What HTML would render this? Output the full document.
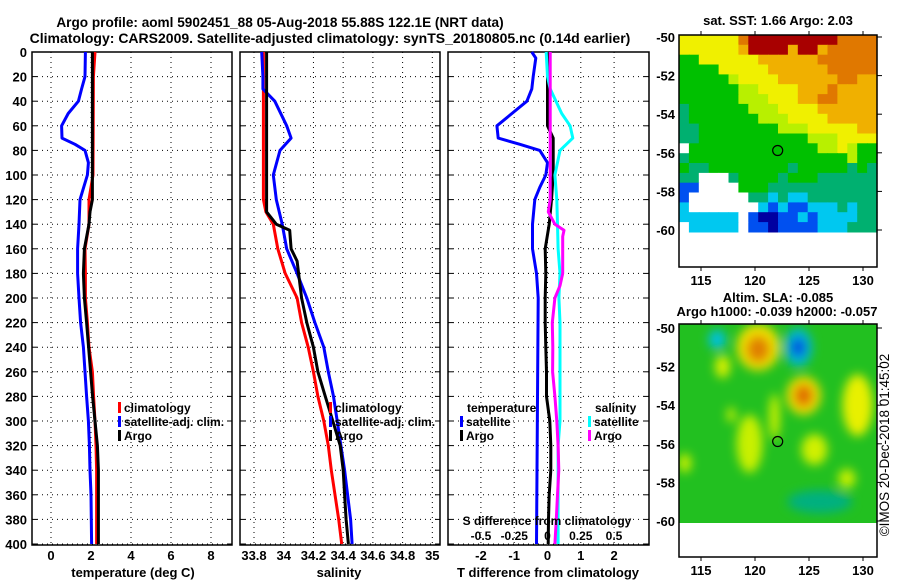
<!DOCTYPE html>
<html><head><meta charset="utf-8"><style>
html,body{margin:0;padding:0;background:#fff;}
svg{display:block;font-family:"Liberation Sans",sans-serif;font-weight:bold;}
</style></head><body>
<svg id="fig" width="900" height="580" viewBox="0 0 900 580" xmlns="http://www.w3.org/2000/svg">
<defs><filter id="blur" x="-50%" y="-50%" width="200%" height="200%"><feGaussianBlur stdDeviation="5"/></filter>
<clipPath id="slaclip"><rect x="679" y="324" width="198" height="199"/></clipPath></defs>
<text x="280" y="27" font-size="13.6" text-anchor="middle">Argo profile: aoml 5902451_88 05-Aug-2018 55.88S 122.1E (NRT data)</text>
<text x="330" y="43" font-size="14" text-anchor="middle">Climatology: CARS2009. Satellite-adjusted climatology: synTS_20180805.nc (0.14d earlier)</text>
<g id="panels"></g>
<g id="maps"></g>
<text transform="translate(889,445) rotate(-90)" font-size="13.5" font-weight="normal" text-anchor="middle">©IMOS 20-Dec-2018 01:45:02</text>
</svg>
<script>
// ---- data ----
const depthTicks=[0,20,40,60,80,100,120,140,160,180,200,220,240,260,280,300,320,340,360,380,400];
const tTicks=[0,2,4,6,8];
const sTicks=[33.8,34,34.2,34.4,34.6,34.8,35];
const sTickLabels=["33.8","34","34.2","34.4","34.6","34.8","35"];
const dTicks=[-2,-1,0,1,2];
const dsTicks=[-0.5,-0.25,0,0.25,0.5];
const dsTickLabels=["-0.5","-0.25","0","0.25","0.5"];

const tClimD=[0,20,100,120,140,160,180,200,220,240,260,280,300,320,340,400];
const tClimV=[2.2,2.12,2.1,1.9,1.9,1.7,1.72,1.72,1.82,1.9,2.07,2.13,2.2,2.25,2.28,2.28];
const tSatD=[0,20,30,40,50,60,70,75,80,90,100,120,140,160,180,200,220,240,260,280,300,320,340,360,400];
const tSatV=[1.72,1.7,1.53,1.37,0.86,0.53,0.55,1.2,1.7,1.87,1.82,1.45,1.4,1.33,1.33,1.4,1.48,1.62,1.7,1.78,1.87,1.92,1.95,2.0,2.03];
const tArgoD=[0,120,130,140,160,180,200,220,240,260,280,300,320,340,400];
const tArgoV=[2.07,2.07,1.95,1.9,1.67,1.62,1.67,1.78,1.88,1.98,2.08,2.2,2.32,2.37,2.37];

const sClimD=[0,120,130,140,160,180,200,220,240,260,280,300,320,340,360,380,400];
const sClimV=[33.863,33.863,33.88,33.93,33.96,34.01,34.09,34.12,34.165,34.2,34.23,34.27,34.3,34.32,34.345,34.37,34.39];
const sSatD=[0,20,30,40,60,70,80,100,120,140,160,180,200,220,240,260,280,300,320,340,360,380,400];
const sSatV=[33.852,33.86,33.86,33.94,34.02,34.05,33.975,33.93,33.95,33.99,34.02,34.09,34.155,34.21,34.27,34.3,34.335,34.36,34.385,34.41,34.43,34.45,34.46];
const sArgoD=[0,130,140,145,160,170,180,200,220,240,260,280,300,320,340,360,380,400];
const sArgoV=[33.885,33.885,33.95,34.04,34.05,34.09,34.1,34.12,34.155,34.2,34.23,34.28,34.33,34.38,34.4,34.41,34.42,34.435];

const dtSatD=[0,5,20,30,40,50,60,70,75,80,90,100,110,120,140,160,180,200,400];
const dtSatV=[-0.47,-0.35,-0.43,-0.47,-0.62,-1.07,-1.52,-1.48,-0.83,-0.23,0,-0.05,-0.23,-0.38,-0.45,-0.45,-0.33,-0.28,-0.33];
const dtArgoD=[0,60,70,90,100,120,140,160,180,200,220,240,260,280,300,320,340,360,380,400];
const dtArgoV=[0,0,0.17,0.17,0.17,0.12,0.05,-0.07,-0.05,-0.07,-0.07,-0.05,-0.03,-0.03,0.07,0.1,0.1,0.05,0.03,0.02];
const dsSatD=[0,20,30,50,60,70,80,100,120,140,160,180,200,220,300,320,400];
const dsSatV=[-0.01,0,0.02,0.107,0.17,0.19,0.094,0.056,0.07,0.075,0.08,0.094,0.086,0.094,0.094,0.08,0.08];
const dsArgoD=[0,120,130,140,145,150,180,190,200,220,240,260,280,300,320,340,360,380,400];
const dsArgoV=[0.02,0.02,0.006,0.056,0.124,0.114,0.114,0.094,0.056,0.036,0.04,0.038,0.056,0.07,0.08,0.085,0.075,0.066,0.056];

const lonTicks=[115,120,125,130];
const latTicks=[-50,-52,-54,-56,-58,-60];
const argoLon=122.1, argoLat=-55.88;

const sstRows=[
"YYYYYYORRRRRRRRROOOO","YYYYYYoRRRRoRRoOOOOO","GGYYYYYYooooooOOOOOO","GGGGYYYYYooooooOOOOO",
"GGGGGyYYYYooooooOOoo","GGGGGGyyYYYYoooOoooo","GGGGGGyyyYYYooOOoooo","gGGGGGGyyyYYYYoooooo",
"gGGGGGGGyyyYYYYooooo","ggGGGGGGGGyyyYYYYYoo","ggGGGGGGGGGGGyyyYYYY","WGGGGGGGGGGGGGyyYyGG",
"gGGGGGGGGGGGGGGGGyGG","GggGGGGGGGGgGGGGGgGg","ggWWWgGGGGgGGGgggggg","BBWWWWGGGgggggggggggg",
"BWWWWWWggCgCCggggggg","CWWWWWWWCBCBBCCCgCgg","CCCCCCWBNNBBCBCCCCgg","WCCCCCWBBNBBBBCCCggg"];
const sstColors={R:"#a80000",O:"#e07800",o:"#f0b000",Y:"#f0f000",y:"#b8f000",G:"#00c000",g:"#00b070",C:"#00c8f0",B:"#0050f0",N:"#0000a0",W:"#ffffff"};

const slaLon=[120.3,120.3,124,124,116.5,124.5,124.5,129.5,117,119.5,125.5,121.8,128.5,117.8,113.5,126];
const slaLat=[-51,-51.1,-51,-51,-50.6,-53.5,-53.5,-54,-52,-56,-56.3,-54.6,-57.8,-54.5,-57,-59];
const slaRx=[2.0,1.1,1.3,0.7,0.8,1.6,0.9,1.4,0.7,1.2,1.2,0.5,0.8,0.4,0.6,3];
const slaRy=[1.2,0.7,1.0,0.5,0.5,1.0,0.6,1.6,0.6,1.5,0.8,1.2,0.5,0.4,0.5,0.6];
const slaCol=["#f0e000","#e08000","#00b8d0","#0050e0","#00c0e0","#f0e000","#e07000","#e8f000","#d8f000","#c8f000","#d0f000","#c8f000","#c8f000","#c8f000","#c8f000","#00b080"];

// ---- helpers ----
const NS="http://www.w3.org/2000/svg";
function el(tag,attrs,parent,txt){const e=document.createElementNS(NS,tag);for(const k in attrs)e.setAttribute(k,attrs[k]);if(txt!==undefined)e.textContent=txt;parent.appendChild(e);return e;}
const yD=d=>52+d*1.23;
const panels=document.getElementById('panels');
const P1={x0:32,x1:232,f:v=>51+20*v};
const P2={x0:240,x1:440,f:v=>254+(v-33.8)*148.6};
const P3={x0:448,x1:649,f:v=>547.5+33.3*v,g:v=>547.5+133*v};

function grid(P,ticks,g){
  for(const d of depthTicks){const y=yD(d);
    let l=el('line',{x1:P.x0,x2:P.x1,y1:y,y2:y,stroke:'#000','stroke-dasharray':'1,4','stroke-width':1},g);
    
    el('line',{x1:P.x0,x2:P.x0+5,y1:y,y2:y,stroke:'#000'},g);el('line',{x1:P.x1-5,x2:P.x1,y1:y,y2:y,stroke:'#000'},g);}
  for(const t of ticks){const x=P.f(t);
    let l=el('line',{x1:x,x2:x,y1:52,y2:545,stroke:'#000','stroke-dasharray':'1,4','stroke-width':1},g);
    }
  let r=el('rect',{x:P.x0,y:52,width:P.x1-P.x0,height:493,fill:'none',stroke:'#000','stroke-width':1.5},g);
  
}
function line(ds,vs,fx,col,g,name){
  const pts=ds.map((d,i)=>fx(vs[i]).toFixed(1)+','+yD(d).toFixed(1)).join(' ');
  const p=el('polyline',{points:pts,fill:'none',stroke:col,'stroke-width':3,'stroke-linejoin':'round'},g);
  
  
}
function legend(x,y,items,g){items.forEach((it,i)=>{
  el('rect',{x:x,y:y+i*14-10,width:3,height:11,fill:it[0]},g);
  const t=el('text',{x:x+6,y:y+i*14,'font-size':12},g,it[1]);
  });}

const g1=el('g',{},panels);
grid(P1,tTicks,g1);
depthTicks.forEach(d=>{const t=el('text',{x:27,y:yD(d)+5,'font-size':13,'text-anchor':'end'},g1,String(d));});
tTicks.forEach(v=>{const t=el('text',{x:P1.f(v),y:560,'font-size':13,'text-anchor':'middle'},g1,String(v));});
let a1=el('text',{x:133,y:577,'font-size':13,'text-anchor':'middle'},g1,'temperature (deg C)');
line(tClimD,tClimV,P1.f,'#ff0000',g1,'temperature-climatology-line');
line(tSatD,tSatV,P1.f,'#0000ff',g1,'temperature-satellite-line');
line(tArgoD,tArgoV,P1.f,'#000000',g1,'temperature-argo-line');
legend(118,412,[['#ff0000','climatology'],['#0000ff','satellite-adj. clim.'],['#000','Argo']],g1);

const g2=el('g',{},panels);
grid(P2,sTicks,g2);
sTicks.forEach((v,i)=>{const t=el('text',{x:P2.f(v),y:560,'font-size':13,'text-anchor':'middle'},g2,sTickLabels[i]);});
let a2=el('text',{x:339,y:577,'font-size':13,'text-anchor':'middle'},g2,'salinity');
line(sClimD,sClimV,P2.f,'#ff0000',g2,'salinity-climatology-line');
line(sSatD,sSatV,P2.f,'#0000ff',g2,'salinity-satellite-line');
line(sArgoD,sArgoV,P2.f,'#000000',g2,'salinity-argo-line');
legend(329,412,[['#ff0000','climatology'],['#0000ff','satellite-adj. clim.'],['#000','Argo']],g2);

const g3=el('g',{},panels);
grid(P3,dTicks,g3);
dTicks.forEach(v=>{const t=el('text',{x:P3.f(v),y:560,'font-size':13,'text-anchor':'middle'},g3,String(v));});
let a3=el('text',{x:548,y:577,'font-size':13,'text-anchor':'middle'},g3,'T difference from climatology');
line(dtSatD,dtSatV,P3.f,'#0000ff',g3,'t-diff-satellite-line');
line(dtArgoD,dtArgoV,P3.f,'#000000',g3,'t-diff-argo-line');
line(dsSatD,dsSatV,P3.g,'#00ffff',g3,'s-diff-satellite-line');
line(dsArgoD,dsArgoV,P3.g,'#ff00ff',g3,'s-diff-argo-line');
let st=el('text',{x:547,y:525,'font-size':12,'text-anchor':'middle'},g3,'S difference from climatology');
dsTicks.forEach((v,i)=>{const t=el('text',{x:P3.g(v),y:540,'font-size':12,'text-anchor':'middle'},g3,dsTickLabels[i]);});
let lt=el('text',{x:467,y:412,'font-size':12},g3,'temperature');
legend(460,426,[['#0000ff','satellite'],['#000','Argo']],g3);
let ls=el('text',{x:595,y:412,'font-size':12},g3,'salinity');
legend(588,426,[['#00ffff','satellite'],['#ff00ff','Argo']],g3);

const maps=document.getElementById('maps');
const lonX=lon=>755+(lon-120)*10.8;
function mapAxes(g,top,latY,boxBottom){
  let r=el('rect',{x:679,y:top,width:198,height:boxBottom-top,fill:'none',stroke:'#000','stroke-width':1.5},g);
  
  latTicks.forEach(l=>{const y=latY(l);el('line',{x1:877,x2:882,y1:y,y2:y,stroke:'#000'},g);
    const t=el('text',{x:675,y:y+5,'font-size':13,'text-anchor':'end'},g,String(l));});
  lonTicks.forEach(l=>{const x=lonX(l);el('line',{x1:x,x2:x,y1:boxBottom,y2:boxBottom+4,stroke:'#000'},g);el('line',{x1:x,x2:x,y1:top,y2:top-4,stroke:'#000'},g);
    const t=el('text',{x:x,y:boxBottom+18,'font-size':13,'text-anchor':'middle'},g,String(l));});
}
const gs=el('g',{},maps);
const sLatY=l=>37+(-50-l)*19.3;
const cw=198/20, ch=(sLatY(-60.1)-35)/sstRows.length;
sstRows.forEach((row,ri)=>{for(let ci=0;ci<20;ci++){const c=sstColors[row[ci]]||'#00b070';
  el('rect',{x:(679+ci*cw).toFixed(1),y:(35+ri*ch).toFixed(1),width:(cw+0.6).toFixed(1),height:(ch+0.6).toFixed(1),fill:c},gs);}});
mapAxes(gs,35,sLatY,267);
let sm=el('circle',{cx:lonX(argoLon),cy:sLatY(argoLat),r:5,fill:'none',stroke:'#000','stroke-width':1.2},gs);
let stt=el('text',{x:778,y:25,'font-size':13,'text-anchor':'middle'},gs,'sat. SST: 1.66 Argo: 2.03');

const ga=el('g',{},maps);
const aLatY=l=>328+(-50-l)*19.3;
const bg=el('g',{'clip-path':'url(#slaclip)'},ga);
el('rect',{x:679,y:324,width:198,height:199,fill:'#22c020'},bg);
const bl=el('g',{filter:'url(#blur)'},bg);
slaLon.forEach((lon,i)=>{const e=el('ellipse',{cx:lonX(lon),cy:aLatY(slaLat[i]),rx:slaRx[i]*10.8,ry:slaRy[i]*19.3,fill:slaCol[i]},bl);
  });
mapAxes(ga,324,aLatY,557);
let am=el('circle',{cx:lonX(argoLon),cy:aLatY(argoLat),r:5,fill:'none',stroke:'#000','stroke-width':1.2},ga);
let at1=el('text',{x:778,y:302,'font-size':13,'text-anchor':'middle'},ga,'Altim. SLA: -0.085');
let at2=el('text',{x:777,y:316,'font-size':13,'text-anchor':'middle'},ga,'Argo h1000: -0.039 h2000: -0.057');
</script>
</body></html>
